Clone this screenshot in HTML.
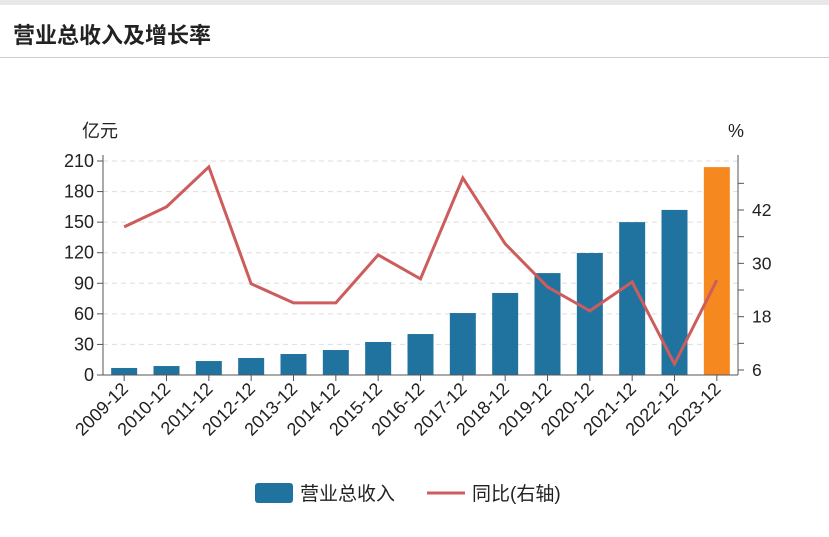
<!DOCTYPE html>
<html><head><meta charset="utf-8"><style>
body{margin:0;width:829px;height:537px;background:#fff;font-family:"Liberation Sans","Noto Sans CJK SC",sans-serif;overflow:hidden}
</style></head><body>
<div style="position:absolute;left:0;top:0;width:829px;height:5px;background:#e8e8e8"></div>
<div style="position:absolute;left:13px;top:18px;font-size:22px;font-weight:bold;color:#222">营业总收入及增长率</div>
<div style="position:absolute;left:0;top:57px;width:829px;height:1px;background:#ccc"></div>
<svg id="chart" width="829" height="537" style="position:absolute;left:0;top:0" font-family="Liberation Sans, Noto Sans CJK SC, sans-serif"></svg>
<script>
const categories=["2009-12","2010-12","2011-12","2012-12","2013-12","2014-12","2015-12","2016-12","2017-12","2018-12","2019-12","2020-12","2021-12","2022-12","2023-12"];
const revenue=[6.9,8.8,13.7,16.7,20.6,24.5,32.4,40.2,60.8,80.5,100,119.7,150,162,204];
const growth=[38.2,42.7,51.7,25.4,21.1,21.1,31.9,26.5,49.2,34.4,24.7,19.3,25.8,7.35,26.2];
const leftTicks=[0,30,60,90,120,150,180,210];
const rightTicks=[6,18,30,42];
const rightMinor=[12,24,36,48];
const svg=document.getElementById('chart');
const NS='http://www.w3.org/2000/svg';
const X0=103,X1=738,Y0=375,Y1=161;
const bw=(X1-X0)/categories.length;
const xc=i=>X0+bw*(i+0.5);
const yL=v=>Y0-(v/210)*(Y0-Y1);
const yR=v=>370-(v-6)*(160/36);
function mk(t,a){const e=document.createElementNS(NS,t);for(const k in a)e.setAttribute(k,a[k]);svg.appendChild(e);return e;}
leftTicks.forEach(v=>{
  if(v>0){const g=mk('line',{x1:X0,x2:X1,y1:yL(v),y2:yL(v),stroke:'#ddd','stroke-dasharray':'5,4'});
  
  }
  const t=mk('line',{x1:X0-6,x2:X0,y1:yL(v),y2:yL(v),stroke:'#555'});
  
  
  const l=mk('text',{x:X0-9,y:yL(v)+6,'text-anchor':'end','font-size':18,fill:'#222'});l.textContent=v;
  
  
});
rightTicks.concat(rightMinor).forEach(v=>{
  const t=mk('line',{x1:X1,x2:X1+6,y1:yR(v),y2:yR(v),stroke:'#555'});
  
  
});
rightTicks.forEach(v=>{
  const l=mk('text',{x:X1+14,y:yR(v)+6,'font-size':17.5,fill:'#222'});l.textContent=v;
  
  
});
revenue.forEach((v,i)=>{
  const r=mk('rect',{x:xc(i)-13,y:yL(v),width:26,height:Y0-yL(v),fill:i===revenue.length-1?'#f5891f':'#21739f'});
  
  
});
[['line',{x1:X0,x2:X0,y1:155,y2:Y0,stroke:'#555'}],['line',{x1:X1,x2:X1,y1:155,y2:Y0,stroke:'#555'}],['line',{x1:X0,x2:X1,y1:Y0,y2:Y0,stroke:'#555'}]].forEach(([t,a],k)=>{
  const e=mk(t,a);
  
  
});
categories.forEach((c,i)=>{
  const t=mk('line',{x1:xc(i),x2:xc(i),y1:Y0,y2:Y0+6,stroke:'#555'});
  
  
  const l=mk('text',{x:xc(i)+5,y:Y0+15,'text-anchor':'end','font-size':18,fill:'#222',transform:`rotate(-45 ${xc(i)+5} ${Y0+15})`});l.textContent=c;
  
  
});
const pl=mk('polyline',{points:growth.map((v,i)=>xc(i)+','+yR(v)).join(' '),fill:'none',stroke:'#cd5c5c','stroke-width':3});


const u1=mk('text',{x:82,y:137,'font-size':18,fill:'#222'});u1.textContent='亿元';


const u2=mk('text',{x:728,y:137,'font-size':18,fill:'#222'});u2.textContent='%';


const lg1=mk('rect',{x:255,y:483,width:38,height:20,rx:3,fill:'#21739f'});


const lt1=mk('text',{x:300,y:500,'font-size':19,fill:'#222'});lt1.textContent='营业总收入';


const lg2=mk('line',{x1:427,x2:465,y1:493,y2:493,stroke:'#cd5c5c','stroke-width':3});


const lt2=mk('text',{x:472,y:500,'font-size':19,fill:'#222'});lt2.textContent='同比(右轴)';


</script>
</body></html>
